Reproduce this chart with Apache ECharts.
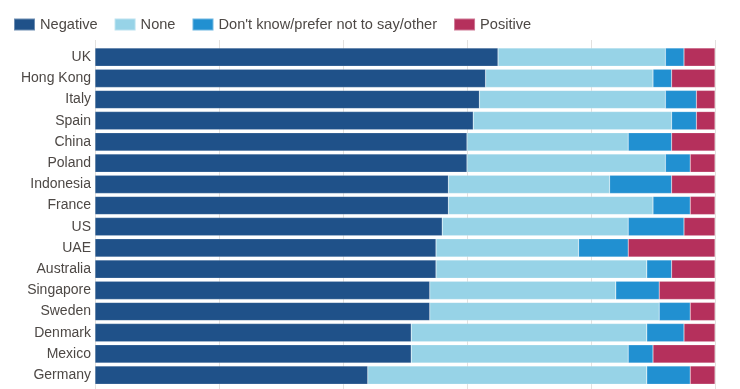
<!DOCTYPE html>
<html><head><meta charset="utf-8">
<script src="https://cdn.jsdelivr.net/npm/echarts@6/dist/echarts.min.js"></script>
<style>html,body{margin:0;padding:0;background:#fff}#c{width:740px;height:389px}</style>
</head><body><div id="c"></div>
<script>
const categories = ["UK","Hong Kong","Italy","Spain","China","Poland","Indonesia","France","US","UAE","Australia","Singapore","Sweden","Denmark","Mexico","Germany"];
const negative = [65,63,62,61,60,60,57,57,56,55,55,54,54,51,51,44];
const none     = [27,27,30,32,26,32,26,33,30,23,34,30,37,38,35,45];
const dontKnow = [3,3,5,4,7,4,10,6,9,8,4,7,5,6,4,7];
const positive = [5,7,3,3,7,4,7,4,5,14,7,9,4,5,10,4];
const seriesNames = ["Negative","None","Don't know/prefer not to say/other","Positive"];
const colors = ["#1f5189","#97d3e7","#2190d1","#b5305c"];
const xTicks = [0,20,40,60,80,100];

const font = "Liberation Sans";
const chart = echarts.init(document.getElementById('c'), null, {renderer:'canvas'});
const data = [negative, none, dontKnow, positive];
chart.setOption({
  animation:false,
  backgroundColor:'#fff',
  color: colors,
  legend:{
    left:8, top:12, itemWidth:21, itemHeight:12, itemGap:16,
    icon:'rect',
    textStyle:{fontFamily:font, fontSize:14.6, color:'#4d4845'},
    data: seriesNames
  },
  grid:[
    {left:95, right:25, top:46.5, height:339.2, containLabel:false},
    {left:95, right:25, top:40, bottom:-10, containLabel:false}
  ],
  xAxis:[
    {gridIndex:0, type:'value', min:0, max:100, interval:20, show:false},
    {gridIndex:1, type:'value', min:xTicks[0], max:xTicks[xTicks.length-1], interval:20,
     axisLine:{show:false}, axisTick:{show:false}, axisLabel:{show:false},
     splitLine:{show:true, lineStyle:{color:'#e3e1df', width:1}}}
  ],
  yAxis:[
    {gridIndex:0, type:'category', inverse:true, data:categories,
     axisLine:{show:false}, axisTick:{show:false},
     axisLabel:{fontFamily:font, fontSize:14, color:'#4d4845', margin:4}},
    {gridIndex:1, type:'category', data:[''], show:false}
  ],
  series: seriesNames.map((n,i)=>({
    name:n, type:'bar', stack:'all', xAxisIndex:0, yAxisIndex:0,
    barCategoryGap:'14%', data:data[i],
    itemStyle:{color:colors[i], borderColor:'rgba(255,255,255,0.35)', borderWidth:0.5}
  }))
});
</script></body></html>
